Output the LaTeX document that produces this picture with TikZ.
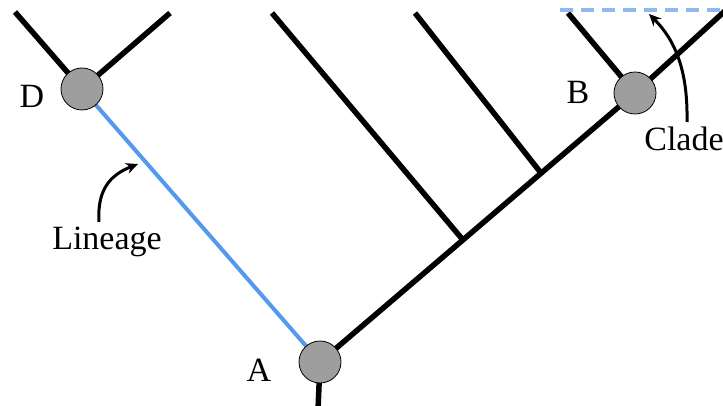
\documentclass[tikz,border=0pt]{standalone}
\usepackage{fontspec}
\setmainfont{Liberation Serif}
\usetikzlibrary{arrows.meta}
\definecolor{lineageblue}{HTML}{5599EE}
\definecolor{cladeblue}{HTML}{92B8F2}
\definecolor{nodegray}{HTML}{9E9E9E}
\tikzset{
  branch/.style={line width=5.5pt, black},
  lin/.style={line width=4pt, lineageblue},
  taxon/.style={circle, draw=black, line width=0.8pt, fill=nodegray, minimum size=42pt, inner sep=0pt},
  lbl/.style={font=\fontsize{34}{36}\selectfont, inner sep=0pt},
  pointer/.style={line width=3pt, -{Stealth[length=12pt,width=11pt]}},
}
\begin{document}
\begin{tikzpicture}[x=1pt,y=-1pt]
\useasboundingbox (0,0) rectangle (723,406);
% coordinates
\coordinate (a) at (320,362);
\coordinate (b) at (635,93);
\coordinate (d) at (82,89);
\coordinate (i1) at (463,240);
\coordinate (i2) at (541,173);
\coordinate (root) at (318,410);
\coordinate (dl) at (15,12);
\coordinate (dr) at (170,13);
\coordinate (bl) at (568,13);
\coordinate (br) at (726,10);
\coordinate (t1) at (272,13);
\coordinate (t2) at (415,13);
\coordinate (c1) at (560,10);
\coordinate (c2) at (723,10);
% branches
\draw[branch] (a) -- (root);
\draw[branch] (a) -- (b);
\draw[branch] (b) -- (br);
\draw[branch] (b) -- (bl);
\draw[branch] (i1) -- (t1);
\draw[branch] (i2) -- (t2);
\draw[branch] (d) -- (dl);
\draw[branch] (d) -- (dr);
\draw[lin] (d) -- (a);
\draw[cladeblue, line width=4.5pt, dash pattern=on 13pt off 8pt] (c1) -- (c2);
% nodes
\node[taxon] (A) at (a) {};
\node[taxon] (B) at (b) {};
\node[taxon] (D) at (d) {};
% labels
\node[lbl] (LA) at (259,370) {A};
\node[lbl] (LB) at (578,92) {B};
\node[lbl] (LD) at (32,96) {D};
\node[lbl, anchor=north] (LL) at (107,227) {Lineage};
\node[lbl, anchor=north] (LC) at (684,127) {Clade};
% pointers
\coordinate (lt) at (138,164);
\coordinate (ct) at (649,14);
\draw[pointer] (99,222) .. controls (97,190) and (110,175) .. (lt);
\draw[pointer] (687,122) .. controls (688,70) and (675,40) .. (ct);
\end{tikzpicture}
\end{document}
